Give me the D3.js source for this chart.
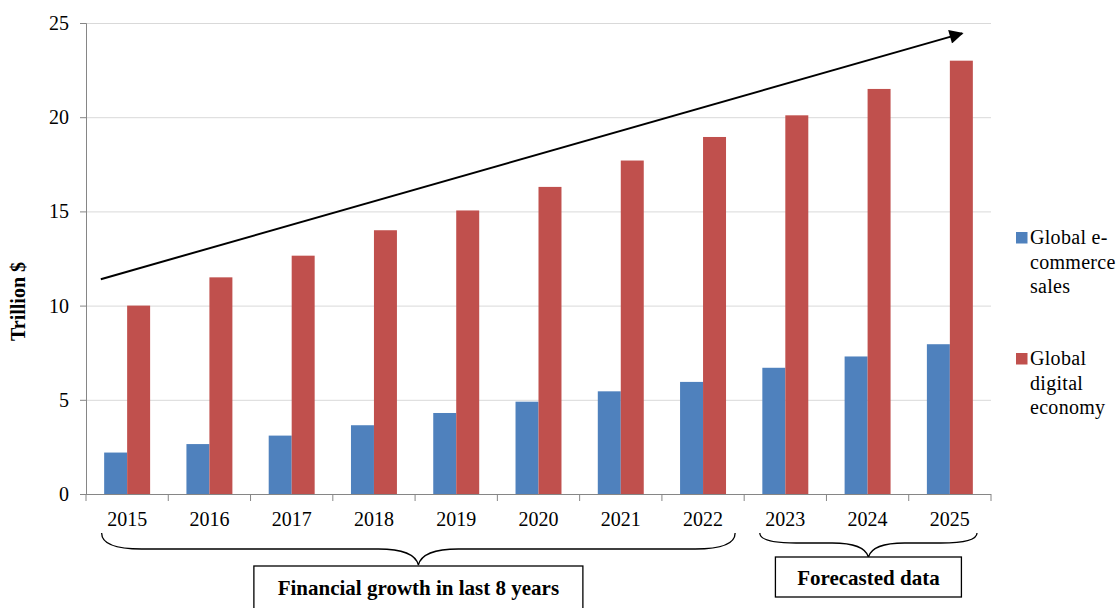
<!DOCTYPE html>
<html><head><meta charset="utf-8">
<script src="https://cdn.jsdelivr.net/npm/d3@7/dist/d3.min.js"></script>
<style>body{margin:0;background:#fff;} svg{display:block;}</style>
</head><body>
<svg id="chart" width="1117" height="608"></svg>
<script>
const years = ["2015","2016","2017","2018","2019","2020","2021","2022","2023","2024","2025"];
const ecommerce = [2.2, 2.65, 3.1, 3.65, 4.3, 4.9, 5.45, 5.95, 6.7, 7.3, 7.95];
const digital = [10.0, 11.5, 12.65, 14.0, 15.05, 16.3, 17.7, 18.95, 20.1, 21.5, 23.0];
const seriesNames = ["Global e-commerce sales", "Global digital economy"];
const legendLines = [["Global e-", "commerce", "sales"], ["Global", "digital", "economy"]];
const colors = ["#4F81BD", "#C0504D"];
const yTicks = [0, 5, 10, 15, 20, 25];
const braceGroups = [
  {label: "Financial growth in last 8 years", from: "2015", to: "2022"},
  {label: "Forecasted data", from: "2023", to: "2025"}
];
const trendArrow = {fromYear: "2015", fromValue: 11.4, toYear: "2025", toValue: 24.45};

const svg = d3.select("#chart");
const L = 86, R = 991, T = 23, B = 494;
const serif = "'Liberation Serif','Times New Roman',serif";

const x = d3.scaleBand().domain(years).range([L, R]).paddingInner(0).paddingOuter(0);
const bw = x.bandwidth();
const x1 = d3.scaleBand().domain([0,1]).range([0, bw]).paddingInner(0).paddingOuter(0.79);
const y = d3.scaleLinear().domain([0, 25]).range([B, T]);

// gridlines
svg.append("g").attr("transform", `translate(${L},0)`)
  .call(d3.axisLeft(y).tickValues(yTicks.slice(1)).tickSize(-(R - L)).tickFormat(""))
  .call(g => g.select(".domain").remove())
  .call(g => g.selectAll("line").attr("stroke", "#d9d9d9").attr("stroke-width", 1));

// bars
const data = years.map((yr, i) => ({year: yr, vals: [ecommerce[i], digital[i]]}));
const grp = svg.append("g").selectAll("g").data(data).join("g")
  .attr("transform", d => `translate(${x(d.year)},0)`);
grp.selectAll("rect").data(d => d.vals.map((v, k) => ({v, k}))).join("rect")
  .attr("x", d => x1(d.k)).attr("width", x1.bandwidth())
  .attr("y", d => y(d.v)).attr("height", d => y(0) - y(d.v))
  .attr("fill", d => colors[d.k]);

// y axis
svg.append("g").attr("transform", `translate(${L},0)`)
  .call(d3.axisLeft(y).tickValues(yTicks).tickSize(6).tickPadding(11))
  .call(g => g.select(".domain").attr("stroke", "#868686"))
  .call(g => g.selectAll("line").attr("stroke", "#868686"))
  .call(g => g.selectAll("text").attr("font-family", serif).attr("font-size", 20).attr("fill", "#000"));

// x axis
const xa = svg.append("g").attr("transform", `translate(0,${B})`)
  .call(d3.axisBottom(x).tickSize(0).tickPadding(18))
  .call(g => g.select(".domain").attr("stroke", "#868686").attr("d", `M${L-6},0.5H${R}`))
  .call(g => g.selectAll("text").attr("font-family", serif).attr("font-size", 20).attr("fill", "#000"));
xa.selectAll("line.bt").data(years.map(d => x(d)).concat([R])).join("line")
  .attr("class", "bt").attr("x1", d => d).attr("x2", d => d).attr("y1", 0).attr("y2", 7)
  .attr("stroke", "#868686");

// y axis title
svg.append("text").attr("transform", `translate(25,${(T + B) / 2 + 43}) rotate(-90)`)
  .attr("text-anchor", "middle").attr("font-family", serif).attr("font-weight", "bold")
  .attr("font-size", 20).text("Trillion $");

// legend
const leg = svg.append("g");
[0, 1].forEach(k => {
  const top = k === 0 ? 232 : 353;
  leg.append("rect").attr("x", 1016).attr("y", top).attr("width", 11.5).attr("height", 11.5).attr("fill", colors[k]);
  legendLines[k].forEach((line, j) => {
    leg.append("text").attr("x", 1030).attr("y", top + 12 + j * 24.5)
      .attr("font-family", serif).attr("font-size", 20).attr("letter-spacing", 0.3).text(line);
  });
});

// trend arrow
svg.append("defs").append("marker").attr("id", "ah").attr("viewBox", "0 0 10 10")
  .attr("refX", 9).attr("refY", 5).attr("markerWidth", 8.5).attr("markerHeight", 7)
  .attr("orient", "auto").attr("markerUnits", "strokeWidth")
  .append("path").attr("d", "M0,0L10,5L0,10z").attr("fill", "#000");
svg.append("line")
  .attr("x1", x(trendArrow.fromYear) + bw * 0.18).attr("y1", y(trendArrow.fromValue))
  .attr("x2", x(trendArrow.toYear) + bw * 0.65).attr("y2", y(trendArrow.toValue))
  .attr("stroke", "#000").attr("stroke-width", 2).attr("marker-end", "url(#ah)");

// braces and boxes
function bracePath(x0, x2, y0, yF, yT) {
  const xm = (x0 + x2) / 2, r = Math.min(40, (x2 - x0) / 6);
  return `M${x0},${y0} Q${x0},${yF} ${x0 + r},${yF} L${xm - r},${yF} Q${xm - 4},${yF} ${xm},${yT}` +
         ` Q${xm + 4},${yF} ${xm + r},${yF} L${x2 - r},${yF} Q${x2},${yF} ${x2},${y0}`;
}
const braceCfg = [
  {x0: x("2015") + bw * 0.19, x2: x("2022") + bw * 0.89, y0: 533, yF: 549, yT: 565, boxTop: 566, boxBot: 612, boxW: 329, textY: 595},
  {x0: x("2023") + bw * 0.19, x2: x("2025") + bw * 0.83, y0: 533, yF: 543, yT: 557, boxTop: 557, boxBot: 597, boxW: 186, textY: 585}
];
braceGroups.forEach((bg, i) => {
  const c = braceCfg[i];
  const xm = (c.x0 + c.x2) / 2;
  svg.append("path").attr("d", bracePath(c.x0, c.x2, c.y0, c.yF, c.yT))
    .attr("fill", "none").attr("stroke", "#000").attr("stroke-width", 1.3);
  svg.append("rect").attr("x", xm - c.boxW / 2).attr("y", c.boxTop).attr("width", c.boxW)
    .attr("height", c.boxBot - c.boxTop).attr("fill", "#fff").attr("stroke", "#000").attr("stroke-width", 1.3);
  svg.append("text").attr("x", xm).attr("y", c.textY).attr("text-anchor", "middle")
    .attr("font-family", serif).attr("font-weight", "bold").attr("font-size", 21).text(bg.label);
});
</script>
</body></html>
